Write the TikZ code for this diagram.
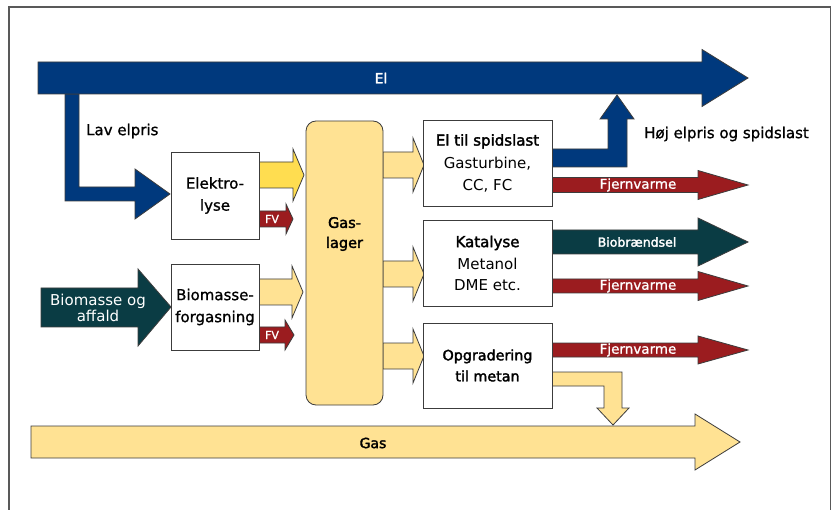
\documentclass[tikz,border=0pt]{standalone}
\usepackage{fontspec}
\setmainfont{DejaVu Sans}
\newfontfamily\medf[FakeBold=1]{DejaVu Sans}
\newfontfamily\boldf[FakeBold=2.2]{DejaVu Sans}
\definecolor{elblue}{RGB}{0,57,125}
\definecolor{bteal}{RGB}{10,60,68}
\definecolor{dred}{RGB}{155,28,31}
\definecolor{lyellow}{RGB}{255,226,147}
\definecolor{byellow}{RGB}{255,221,80}
\definecolor{edge}{RGB}{60,60,60}
\newcommand\blockarrow[7]{%
  \filldraw[fill=#1,draw=edge,line width=0.8pt,line join=miter]
    ({#2},{#5-#6}) -- ({#3},{#5-#6}) -- ({#3},{#5-#7}) -- ({#4},{#5})
    -- ({#3},{#5+#7}) -- ({#3},{#5+#6}) -- ({#2},{#5+#6}) -- cycle;}
\tikzset{
  box/.style={draw=edge,line width=0.8pt,fill=white,inner sep=0pt,align=center,
    font=\fontsize{15}{22}\selectfont},
  txt/.style={inner sep=0pt,align=center,font=\fontsize{15}{22}\selectfont},
  wlab/.style={inner sep=0pt,align=center,text=white,font=\fontsize{13.5}{16}\selectfont},
}
\begin{document}
\begin{tikzpicture}[x=1pt,y=-1pt]
\useasboundingbox (0,0) rectangle (832,510);
\clip (0,0) rectangle (832,510);
\fill[white] (0,0) rectangle (832,510);
\draw[black!65,line width=1.2pt] (9,7) rectangle (830.5,530);

% Lav elpris branch
\filldraw[fill=elblue,draw=edge,line width=0.8pt]
  (65,94) -- (79,94) -- (79,187) -- (135,187) -- (135,169) -- (170,194)
  -- (135,219) -- (135,201) -- (65,201) -- cycle;
% El arrow
\blockarrow{elblue}{38}{702}{748}{78}{16}{28.5}
% Hoj elpris branch
\filldraw[fill=elblue,draw=edge,line width=0.8pt]
  (552,149) -- (608,149) -- (608,119) -- (600,119) -- (617,95) -- (634,119)
  -- (627,119) -- (627,167) -- (552,167) -- cycle;

% Biomasse og affald
\filldraw[fill=bteal,draw=edge,line width=0.8pt]
  (41,288) -- (138,288) -- (138,269) -- (171,307) -- (138,346) -- (138,327)
  -- (41,327) -- cycle;

% outputs of Elektrolyse / Biomasseforgasning
\blockarrow{byellow}{259}{293}{304}{175}{13}{26}
\blockarrow{dred}{259}{286}{293}{219}{8}{15}
\blockarrow{lyellow}{259}{292}{303}{292}{13}{26}
\blockarrow{dred}{259}{285}{294}{335}{8}{15}

% gas lager outputs
\blockarrow{lyellow}{383}{413}{424}{165}{13}{27}
\blockarrow{lyellow}{383}{413}{424}{274}{13}{27}
\blockarrow{lyellow}{383}{413}{424}{356}{13}{27}

% right side arrows
\blockarrow{dred}{552}{698}{748}{185}{7.5}{14.5}
\blockarrow{bteal}{552}{698}{748}{242}{12}{24}
\blockarrow{dred}{552}{698}{748}{286}{7}{14.5}
\blockarrow{dred}{552}{698}{748}{350}{7}{14}

% Gas arrow
\blockarrow{lyellow}{31}{695}{740}{442}{16}{28}
% branch from Opgradering to Gas
\filldraw[fill=lyellow,draw=edge,line width=0.8pt]
  (552,372) -- (622,372) -- (622,408) -- (629,408) -- (613,425) -- (597,408)
  -- (604,408) -- (604,386) -- (552,386) -- cycle;

% boxes
\node[box,minimum width=88pt,minimum height=87pt] (elek) at (215,195.5)
  {\medf Elektro-\\\medf lyse};
\node[box,minimum width=88pt,minimum height=86pt] (biof) at (215,307)
  {\medf Biomasse-\\\medf forgasning};
\filldraw[fill=lyellow,draw=edge,line width=0.8pt,rounded corners=10pt]
  (306,121) rectangle (383,405);
\node[txt,font=\fontsize{14.5}{20}\selectfont] (gasl) at (344.5,234) {\boldf Gas-\\\boldf lager};
\node[box,minimum width=129pt,minimum height=86pt] (spids) at (487.5,163)
  {\boldf El til spidslast\\[0.5pt] Gasturbine,\\ CC, FC};
\node[box,minimum width=129pt,minimum height=86pt] (kat) at (487.5,263)
  {\boldf Katalyse\\ Metanol\\[-1pt] DME etc.};
\node[box,minimum width=129pt,minimum height=85pt,font=\fontsize{14.3}{21}\selectfont] (opg) at (487.5,365.5)
  {\boldf Opgradering\\\boldf til metan};

% labels
\node[wlab,font=\fontsize{14}{16}\selectfont] (ellab) at (381,78) {\boldf El};
\node[txt,anchor=west] (lav) at (86,131) {\medf Lav elpris};
\node[txt,anchor=west] (hoj) at (644,134) {\medf Høj elpris og spidslast};
\node[wlab,font=\fontsize{15}{16}\selectfont] (bioaf) at (98,308) {Biomasse og\\affald};
\node[wlab,font=\fontsize{11}{13}\selectfont] (fv1) at (272,219) {\medf FV};
\node[wlab,font=\fontsize{11}{13}\selectfont] (fv2) at (272,335) {\medf FV};
\node[wlab] (fj1) at (638,185) {\medf Fjernvarme};
\node[wlab,font=\fontsize{12.5}{14}\selectfont] (biob) at (637,242) {\boldf Biobrændsel};
\node[wlab] (fj2) at (638,286) {\medf Fjernvarme};
\node[wlab] (fj3) at (638,350) {\medf Fjernvarme};
\node[txt,font=\fontsize{14}{16}\selectfont] (gaslab) at (373,443) {\boldf Gas};
\end{tikzpicture}
\end{document}
